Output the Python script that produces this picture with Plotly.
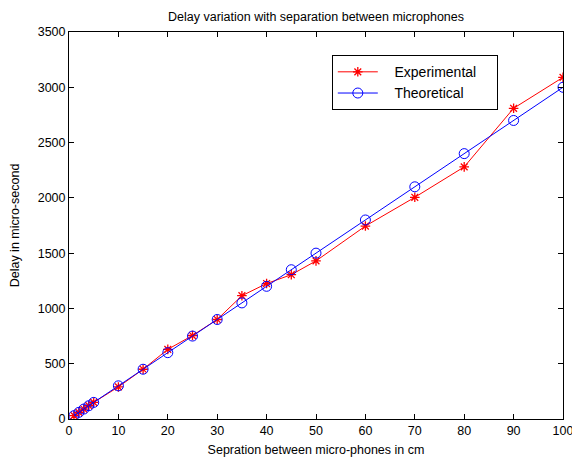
import plotly.graph_objects as go

separation_cm = [1, 2, 3, 4, 5, 10, 15, 20, 25, 30, 35, 40, 45, 50, 60, 70, 80, 90, 100]
experimental_us = [30, 60, 90, 120, 150, 290, 450, 630, 755, 900, 1115, 1225, 1305, 1430, 1745, 2005, 2280, 2810, 3090]
theoretical_us = [30, 60, 90, 120, 150, 300, 450, 600, 750, 900, 1050, 1200, 1350, 1500, 1800, 2100, 2400, 2700, 3000]
series_names = ["Experimental", "Theoretical"]

font = "Liberation Sans, Arial, sans-serif"
pad_l = "\u00a0" * 3
pad_r = "\u00a0" * 4

fig = go.Figure()
fig.add_trace(go.Scatter(
    x=separation_cm, y=experimental_us, name=pad_l + series_names[0] + pad_r,
    mode="lines+markers",
    line=dict(color="#ff0000", width=1),
    marker=dict(symbol="asterisk-open", size=8, color="#ff0000",
                line=dict(color="#ff0000", width=1.3)),
))
fig.add_trace(go.Scatter(
    x=separation_cm, y=theoretical_us, name=pad_l + series_names[1] + pad_r,
    mode="lines+markers",
    line=dict(color="#0000ff", width=1),
    marker=dict(symbol="circle-open", size=10, color="#0000ff",
                line=dict(color="#0000ff", width=1)),
))

axis_common = dict(
    showgrid=False, zeroline=False, showline=True, mirror="ticks",
    linecolor="black", linewidth=1, ticks="inside", ticklen=5,
    tickcolor="black", tickfont=dict(family=font, size=12.5, color="black"),
    ticklabeloverflow="allow", automargin=False,
)

fig.update_layout(
    width=572, height=462,
    margin=dict(l=69, r=9, t=32, b=43),
    paper_bgcolor="white", plot_bgcolor="white",
    font=dict(family=font, size=12, color="black"),
    title=dict(text="Delay variation with separation between microphones",
               xref="paper", x=0.5, xanchor="center",
               yref="container", y=0.965, yanchor="middle",
               font=dict(family=font, size=12.5, color="black")),
    xaxis=dict(range=[0, 100], tickmode="linear", tick0=0, dtick=10,
               title=dict(text="Sepration between micro-phones in cm",
                          font=dict(family=font, size=12.5), standoff=8),
               **axis_common),
    yaxis=dict(range=[0, 3500], tickmode="linear", tick0=0, dtick=500,
               title=dict(text="Delay in micro-second",
                          font=dict(family=font, size=12.5), standoff=15),
               **axis_common),
    legend=dict(x=0.532, y=0.94, xanchor="left", yanchor="top",
                bgcolor="white", bordercolor="black", borderwidth=1,
                font=dict(family=font, size=14, color="black"),
                itemwidth=40, tracegroupgap=0),
    showlegend=True,
)

fig.write_html("out.html")
